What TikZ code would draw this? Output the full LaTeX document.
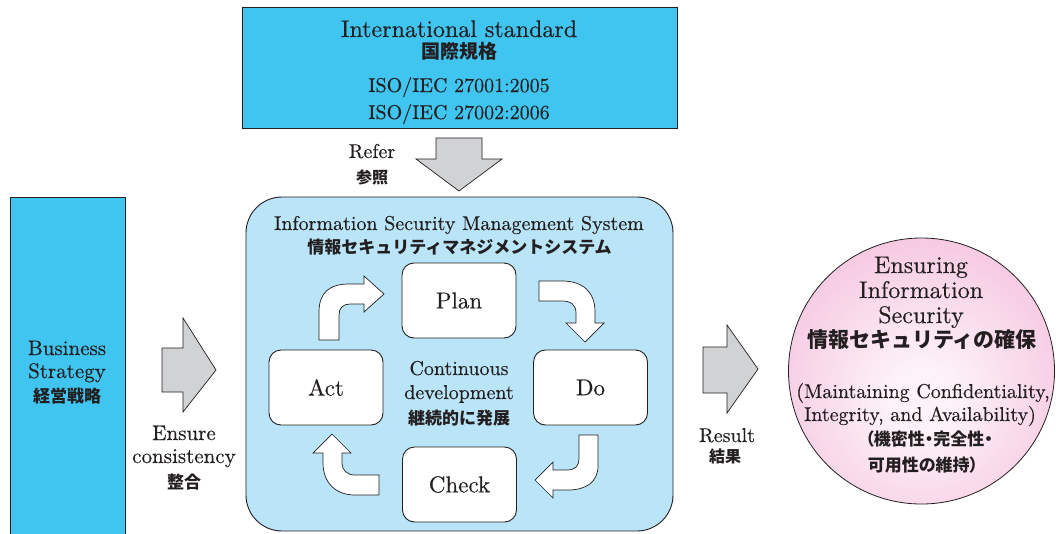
\documentclass[tikz,border=0pt]{standalone}
\usepackage{fontspec}
\setmainfont{lmroman10-regular.otf}[FakeBold=0.35, BoldFont=lmroman10-bold.otf, ItalicFont=lmroman10-italic.otf]
\newfontfamily\jp{Noto Sans CJK JP}
\newfontfamily\jpp{Noto Sans CJK JP}[RawFeature=+palt]
\definecolor{ink}{RGB}{35,31,32}
\definecolor{stdcyan}{RGB}{64,197,241}
\definecolor{ismsblue}{RGB}{186,229,248}
\definecolor{arrowgray}{RGB}{209,210,212}
\definecolor{pinkin}{RGB}{253,242,248}
\definecolor{pinkout}{RGB}{240,164,205}
\pgfdeclareradialshading{pinkglow}{\pgfpoint{0bp}{-6bp}}{color(0bp)=(pinkin); color(6bp)=(pinkin); color(50bp)=(pinkout); color(75bp)=(pinkout)}
\newcommand{\enf}[1]{\fontsize{#1}{#1}\selectfont}
\newcommand{\jpf}[1]{\jp\bfseries\fontsize{#1}{#1}\selectfont}
\newcommand{\jppf}[1]{\jpp\bfseries\fontsize{#1}{#1}\selectfont}
\begin{document}
\begin{tikzpicture}[x=1pt,y=-1pt,
  txt/.style={anchor=base, inner sep=0pt, text=ink},
  bigbox/.style={draw=ink, line width=0.9pt, inner sep=0pt},
  stepbox/.style={draw=ink, line width=0.9pt, fill=white, rounded corners=12pt,
    minimum width=114pt, minimum height=75pt, inner sep=0pt, text=ink, font=\enf{23}},
  blockarrow/.style={draw=ink, line width=0.7pt, fill=arrowgray, line join=miter},
  cyclearrow/.style={draw=ink, line width=0.7pt, fill=white, line join=miter}]
\useasboundingbox (0,0) rectangle (1056,533);

% international standard
\node[bigbox, fill=stdcyan, minimum width=435pt, minimum height=121pt] (std) at (459.5,67.5) {};
\node[txt, font=\enf{24}] (stdA) at (459,37) {International standard};
\node[txt, font=\jpf{19}] (stdB) at (459,58) {国際規格};
\node[txt, font=\enf{20}] (stdC) at (459,92) {ISO/IEC 27001:2005};
\node[txt, font=\enf{20}] (stdD) at (459,119) {ISO/IEC 27002:2006};

% refer arrow
\draw[blockarrow] (436,138) -- (482,138) -- (482,159) -- (502,159) -- (459,191)
  -- (416,159) -- (436,159) -- cycle;
\node[txt, font=\enf{20}] (refA) at (372,158) {Refer};
\node[txt, font=\jpf{16}] (refB) at (372,183) {参照};

% business strategy
\node[bigbox, fill=stdcyan, minimum width=115pt, minimum height=345pt] (biz) at (67.5,369.5) {};
\node[txt, font=\enf{21}] (bizA) at (67,355) {Business};
\node[txt, font=\enf{21}] (bizB) at (67,378) {Strategy};
\node[txt, font=\jpf{17}] (bizC) at (67,402) {経営戦略};

% ensure consistency arrow
\draw[blockarrow] (162,348) -- (183,348) -- (183,318) -- (216,370) -- (183,412)
  -- (183,392) -- (162,392) -- cycle;
\node[txt, font=\enf{21}] (ensA) at (184,440) {Ensure};
\node[txt, font=\enf{21}] (ensB) at (184,463) {consistency};
\node[txt, font=\jpf{17}] (ensC) at (184,488) {整合};

% management system
\node[bigbox, fill=ismsblue, rounded corners=36pt, minimum width=427pt, minimum height=334pt] (isms) at (459.5,364) {};
\node[txt, font=\enf{20}] (ismsA) at (459,230) {Information Security Management System};
\node[txt, font=\jpf{17}] (ismsB) at (459.5,253) {情報セキュリティマネジメントシステム};

% PDCA cycle
\node[stepbox] (plan) at (459,300.5) {Plan};
\node[stepbox] (do) at (590.5,387.5) {Do};
\node[stepbox] (act) at (326,387.5) {Act};
\node[stepbox] (check) at (459.5,484.5) {Check};

\node[txt, font=\enf{20}] (contA) at (459,375) {Continuous};
\node[txt, font=\enf{20}] (contB) at (459,399) {development};
\node[txt, font=\jpf{17}] (contC) at (459,424) {継続的に発展};

% act -> plan
\draw[cyclearrow] (319,340) -- (319,312) .. controls (319,293) and (329,284) .. (349,284)
  -- (364,284) -- (364,276) -- (384,294) -- (364,312) -- (364,304) -- (350,304)
  .. controls (343,304) and (339,308) .. (339,315) -- (339,340) -- cycle;
% plan -> do
\draw[cyclearrow] (539,281) -- (562,281) .. controls (583,281) and (595,292) .. (595,312)
  -- (595,323) -- (604,323) -- (585,342) -- (566,323) -- (576,323) -- (576,313)
  .. controls (576,305) and (571,301) .. (562,301) -- (539,301) -- cycle;
% do -> check
\draw[cyclearrow] (579,435) -- (598,435) -- (598,466) .. controls (598,482) and (586,490) .. (568,490)
  -- (553,490) -- (553,498) -- (535,480) -- (553,462) -- (553,470) -- (567,470)
  .. controls (575,470) and (579,466) .. (579,459) -- cycle;
% check -> act
\draw[cyclearrow] (379,475) -- (355,475) .. controls (347,475) and (342,470) .. (342,463)
  -- (342,453) -- (351,453) -- (332,434) -- (313,453) -- (323,453) -- (323,463)
  .. controls (323,482) and (335,495) .. (355,495) -- (379,495) -- cycle;

% result arrow
\draw[blockarrow] (703,347) -- (727,347) -- (727,325) -- (758,369) -- (727,413)
  -- (727,393) -- (703,393) -- cycle;
\node[txt, font=\enf{20}] (resA) at (727,442) {Result};
\node[txt, font=\jpf{16}] (resB) at (725,462) {結果};

% ensuring information security
\node[circle, draw=ink, line width=0.8pt, shade, shading=pinkglow, minimum size=266pt, inner sep=0pt] (goal) at (921.5,371) {};
\node[txt, font=\enf{24}] (goalA) at (921,273) {Ensuring};
\node[txt, font=\enf{24}] (goalB) at (921,298) {Information};
\node[txt, font=\enf{24}] (goalC) at (921,323) {Security};
\node[txt, font=\jpf{21}] (goalD) at (922,347) {情報セキュリティの確保};
\node[txt, font=\enf{20}] (goalE) at (923,398) {(Maintaining Confidentiality,};
\node[txt, font=\enf{20}] (goalF) at (920,421) {Integrity, and Availability)};
\node[txt, font=\jppf{17}] (goalG) at (929,445) {（機密性・完全性・};
\node[txt, font=\jppf{17}] (goalH) at (923,471) {可用性の維持）};
\end{tikzpicture}
\end{document}
